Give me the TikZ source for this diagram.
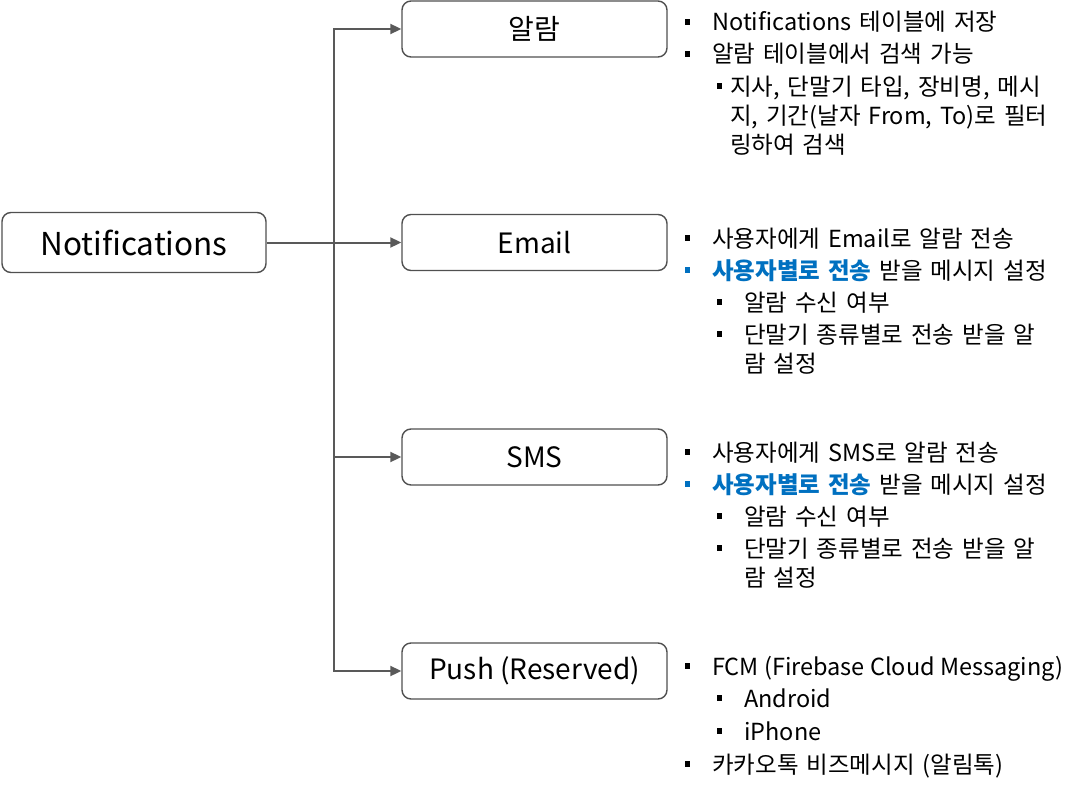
\documentclass[tikz,border=0pt]{standalone}
\usepackage{fontspec}
\setmainfont{Noto Sans CJK KR}[WordSpace=1.5]
\newfontfamily\plainfont{Noto Sans CJK KR}
\usetikzlibrary{arrows.meta}
\definecolor{linegray}{RGB}{89,89,89}
\definecolor{boxgray}{RGB}{80,80,80}
\definecolor{ofblue}{RGB}{0,112,192}
\tikzset{
  box/.style={draw=boxgray, line width=1.4pt, rounded corners=9pt, fill=white, inner sep=0pt},
  conn/.style={draw=linegray, line width=2pt},
  arr/.style={conn, -{Triangle[length=11pt,width=10pt]}},
  txt/.style={anchor=base west, inner sep=0pt, font=\fontsize{23.5}{26}\selectfont},
  bul/.style={fill=black, minimum size=5.5pt, inner sep=0pt, draw=none},
  bbul/.style={bul, fill=ofblue},
  boxtxt/.style={font=\plainfont\fontsize{28}{30}\selectfont},
}
\begin{document}
\begin{tikzpicture}[x=1pt,y=-1pt]
\useasboundingbox (0,0) rectangle (1081,792);
% boxes
\node[box, minimum width=264pt, minimum height=60pt, font=\fontsize{31.5}{34}\selectfont] (N) at (134,242.5) {Notifications};
\node[box, minimum width=265pt, minimum height=56pt, boxtxt] (A) at (534.5,29) {알람};
\node[box, minimum width=265pt, minimum height=56pt, boxtxt] (E) at (534.5,242.5) {Email};
\node[box, minimum width=265pt, minimum height=56pt, boxtxt] (S) at (534.5,457) {SMS};
\node[box, minimum width=265pt, minimum height=56pt, boxtxt] (P) at (534.5,671) {Push (Reserved)};
% connectors
\coordinate (j) at (334,242.5);
\draw[arr] (N.east) -- (E.west);
\draw[arr] (j) |- (A.west);
\draw[arr] (j) |- (S.west);
\draw[arr] (j) |- (P.west);
% 알람
\node[bul] (ab1) at (687.5,22) {};
\node[txt] (at1) at (712,31) {Notifications 테이블에 저장};
\node[bul] (ab2) at (687.5,54) {};
\node[txt] (at2) at (712,63) {알람 테이블에서 검색 가능};
\node[bul] (ab3) at (719.5,86) {};
\node[txt] (at3) at (730,95) {지사, 단말기 타입, 장비명, 메시};
\node[txt] (at4) at (730,124) {지, 기간(날자 From, To)로 필터};
\node[txt] (at5) at (730,153) {링하여 검색};
% Email
\node[bul] (eb1) at (687.5,238) {};
\node[txt] (et1) at (712,247) {사용자에게 Email로 알람 전송};
\node[bbul] (eb2) at (687.5,270) {};
\node[txt] (et2) at (712,279) {\textcolor{ofblue}{\bfseries 사용자별로 전송} 받을 메시지 설정};
\node[bul] (eb3) at (719.5,302) {};
\node[txt] (et3) at (744,311) {알람 수신 여부};
\node[bul] (eb4) at (719.5,334) {};
\node[txt] (et4) at (744,343) {단말기 종류별로 전송 받을 알};
\node[txt] (et5) at (744,372) {람 설정};
% SMS
\node[bul] (sb1) at (687.5,452) {};
\node[txt] (st1) at (712,461) {사용자에게 SMS로 알람 전송};
\node[bbul] (sb2) at (687.5,484) {};
\node[txt] (st2) at (712,493) {\textcolor{ofblue}{\bfseries 사용자별로 전송} 받을 메시지 설정};
\node[bul] (sb3) at (719.5,516) {};
\node[txt] (st3) at (744,525) {알람 수신 여부};
\node[bul] (sb4) at (719.5,548) {};
\node[txt] (st4) at (744,557) {단말기 종류별로 전송 받을 알};
\node[txt] (st5) at (744,586) {람 설정};
% Push
\node[bul] (pb1) at (687.5,666) {};
\node[txt] (pt1) at (712,675) {\plainfont FCM (Firebase Cloud Messaging)};
\node[bul] (pb2) at (719.5,698) {};
\node[txt] (pt2) at (744,707) {Android};
\node[bul] (pb3) at (719.5,731) {};
\node[txt] (pt3) at (744,740) {iPhone};
\node[bul] (pb4) at (687.5,764) {};
\node[txt] (pt4) at (712,773) {카카오톡 비즈메시지 (알림톡)};
\end{tikzpicture}
\end{document}
